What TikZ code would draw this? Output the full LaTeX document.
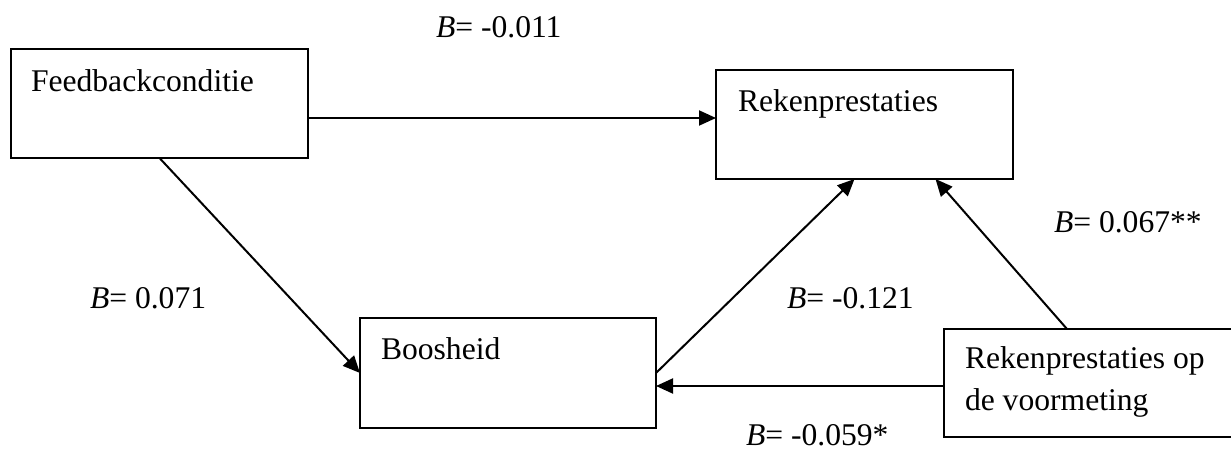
\documentclass[tikz,border=0pt]{standalone}
\usepackage{fontspec}
\setmainfont{Liberation Serif}
\usetikzlibrary{arrows.meta,calc}
\begin{document}
\begin{tikzpicture}[x=1pt,y=-1pt,
  every node/.style={inner sep=0pt,outer sep=0pt,font=\fontsize{31.6}{42}\selectfont},
  varbox/.style={draw=black,line width=2.3pt,anchor=north west},
  boxtext/.style={anchor=base west,align=left},
  coef/.style={anchor=base west},
  arr/.style={line width=2pt,-{Triangle[length=17pt,width=15pt]}}]
  \useasboundingbox (0,0) rectangle (1231,455);
  \clip (0,0) rectangle (1231,455);

  % variable boxes
  \node[varbox,minimum width=297pt,minimum height=109pt] (fb) at (11,49) {};
  \node[varbox,minimum width=297pt,minimum height=109pt] (rk) at (716,70) {};
  \node[varbox,minimum width=296pt,minimum height=110pt] (bh) at (360,318) {};
  \node[varbox,minimum width=300pt,minimum height=108pt] (vm) at (944,329) {};

  % box labels (base = baseline of the last line)
  \node[boxtext] at ($(fb.north west)+(20,42)$) {Feedbackconditie};
  \node[boxtext] at ($(rk.north west)+(22,41)$) {Rekenprestaties};
  \node[boxtext] at ($(bh.north west)+(21,41)$) {Boosheid};
  \node[boxtext] at ($(vm.north west)+(21,81)$) {Rekenprestaties op\\de voormeting};

  % paths
  \draw[arr] ([yshift=-14.5pt]fb.east) coordinate (a1) -- (a1 -| rk.west);
  \draw[arr] (fb.south) -- (bh.west);
  \draw[arr] (bh.east) -- ([xshift=-10pt]rk.south);
  \draw[arr] ([xshift=-27pt]vm.north) -- ([xshift=71pt]rk.south);
  \draw[arr] ([yshift=-3pt]vm.west) coordinate (a5) -- (a5 -| bh.east);

  % coefficients
  \node[coef] (c1) at (436,37) {\textit{B}= -0.011};
  \node[coef] (c2) at (90,308) {\textit{B}= 0.071};
  \node[coef] (c3) at (787,308) {\textit{B}= -0.121};
  \node[coef] (c4) at (1054,232) {\textit{B}= 0.067**};
  \node[coef] (c5) at (746,445) {\textit{B}= -0.059*};
\end{tikzpicture}
\end{document}
